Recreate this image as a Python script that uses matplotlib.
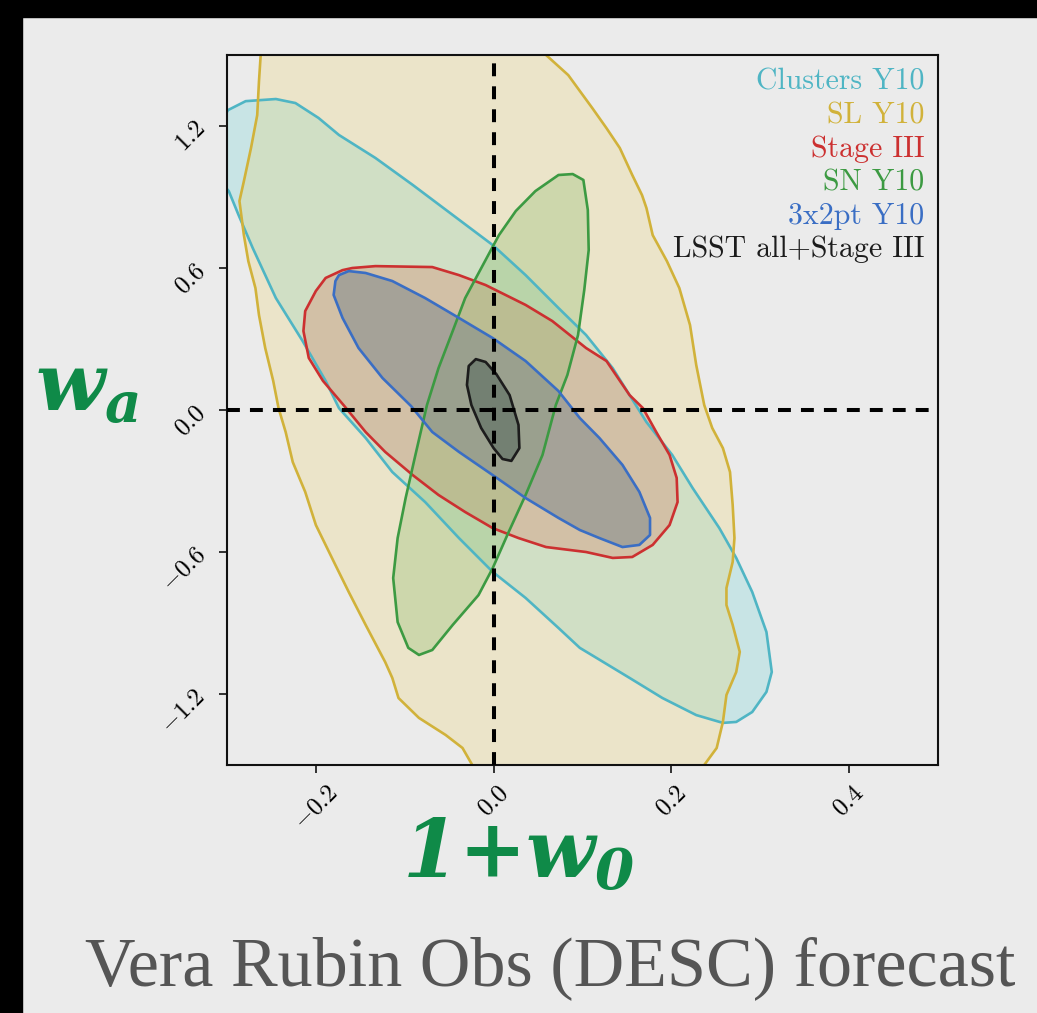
import numpy as np
import matplotlib
matplotlib.use("Agg")
import matplotlib.pyplot as plt
from matplotlib.patches import Rectangle

# ------------------------------------------------------------
# Contours 68% dans le plan (1+w0, wa) -- sommets
# ------------------------------------------------------------
sl_x = [-0.261, -0.264, -0.266, -0.273, -0.281, -0.286, -0.281, -0.276, -0.268,
        -0.264, -0.257, -0.248, -0.242, -0.234, -0.226, -0.212, -0.200, -0.178,
        -0.163, -0.144, -0.122, -0.114, -0.107, -0.084, -0.054, -0.035, -0.024,
        -0.015, 0.060, 0.232,
        0.237, 0.251, 0.258, 0.262, 0.273, 0.277, 0.269, 0.262, 0.262, 0.269,
        0.271, 0.269, 0.266, 0.258, 0.246, 0.237, 0.228, 0.221, 0.209, 0.195,
        0.179, 0.172, 0.167, 0.156, 0.142, 0.127, 0.111, 0.097, 0.084, 0.059,
        0.035, -0.100, -0.250]
sl_y = [1.563, 1.390, 1.246, 1.107, 0.967, 0.883, 0.739, 0.629, 0.515,
        0.401, 0.262, 0.123, 0.008, -0.093, -0.220, -0.346, -0.486, -0.655,
        -0.769, -0.908, -1.065, -1.132, -1.217, -1.301, -1.373, -1.428, -1.500,
        -1.600, -1.680, -1.600,
        -1.500, -1.428, -1.318, -1.204, -1.107, -1.022, -0.908, -0.824, -0.752, -0.642,
        -0.541, -0.401, -0.262, -0.161, -0.076, 0.021, 0.190, 0.359, 0.515, 0.629,
        0.739, 0.853, 0.908, 0.993, 1.107, 1.191, 1.276, 1.348, 1.415, 1.500,
        1.580, 1.620, 1.600]

cl_x = [-0.315, -0.299, -0.279, -0.245, -0.223, -0.197, -0.174, -0.133, -0.091,
        -0.046, -0.001, 0.036, 0.073, 0.104, 0.134, 0.153, 0.172, 0.201, 0.224,
        0.254, 0.273, 0.291, 0.307, 0.313, 0.307, 0.291, 0.273, 0.258, 0.228,
        0.190, 0.153, 0.116, 0.097, 0.073, 0.036, -0.001, -0.039, -0.077, -0.114,
        -0.144, -0.174, -0.189, -0.215, -0.245, -0.271, -0.287, -0.298, -0.315]
cl_y = [1.150, 1.267, 1.305, 1.314, 1.297, 1.234, 1.162, 1.065, 0.951,
        0.824, 0.697, 0.570, 0.431, 0.317, 0.177, 0.063, -0.051, -0.190, -0.330,
        -0.499, -0.625, -0.769, -0.938, -1.107, -1.191, -1.276, -1.318, -1.322, -1.289,
        -1.217, -1.132, -1.048, -1.005, -0.921, -0.794, -0.684, -0.541, -0.389, -0.262,
        -0.118, 0.008, 0.123, 0.292, 0.473, 0.684, 0.824, 0.925, 1.000]

s3_x = [-0.170, -0.159, -0.133, -0.069, -0.039, -0.009, 0.036, 0.066, 0.104,
        0.127, 0.153, 0.168, 0.183, 0.198, 0.206, 0.207, 0.198, 0.179, 0.156,
        0.134, 0.104, 0.059, 0.028, -0.001, -0.032, -0.062, -0.091, -0.122,
        -0.144, -0.168, -0.192, -0.208, -0.214, -0.212, -0.200, -0.189]
s3_y = [0.591, 0.600, 0.608, 0.604, 0.570, 0.528, 0.444, 0.376, 0.262,
        0.207, 0.063, 0.008, -0.093, -0.190, -0.287, -0.389, -0.486, -0.570, -0.621,
        -0.625, -0.600, -0.579, -0.541, -0.499, -0.431, -0.359, -0.275, -0.177,
        -0.093, 0.017, 0.123, 0.220, 0.334, 0.418, 0.503, 0.558]

sn_x = [0.089, 0.101, 0.106, 0.107, 0.102, 0.095, 0.083, 0.070, 0.055, 0.036,
        0.017, -0.001, -0.017, -0.046, -0.069, -0.084, -0.096, -0.108, -0.113,
        -0.108, -0.099, -0.088, -0.075, -0.062, -0.046, -0.032, -0.012, 0.006,
        0.025, 0.047, 0.073]
sn_y = [0.997, 0.972, 0.845, 0.676, 0.507, 0.317, 0.148, 0.021, -0.190, -0.359,
        -0.515, -0.668, -0.782, -0.908, -1.014, -1.035, -1.005, -0.896, -0.710,
        -0.541, -0.372, -0.190, 0.021, 0.177, 0.334, 0.473, 0.613, 0.739,
        0.841, 0.925, 0.993]

x2_x = [-0.174, -0.163, -0.144, -0.114, -0.077, -0.039, -0.001, 0.036, 0.073,
        0.097, 0.119, 0.145, 0.164, 0.176, 0.176, 0.164, 0.145, 0.119, 0.097,
        0.073, 0.036, -0.001, -0.039, -0.069, -0.093, -0.125, -0.152, -0.170,
        -0.180, -0.178]
x2_y = [0.570, 0.587, 0.579, 0.545, 0.473, 0.389, 0.304, 0.207, 0.080,
        -0.034, -0.118, -0.232, -0.346, -0.456, -0.528, -0.570, -0.579, -0.541, -0.507,
        -0.456, -0.372, -0.275, -0.177, -0.093, 0.017, 0.135, 0.262, 0.389,
        0.486, 0.545]

all_x = [-0.020, -0.009, 0.003, 0.018, 0.028, 0.029, 0.020, 0.010, 0.000,
         -0.014, -0.025, -0.030, -0.028]
all_y = [0.215, 0.203, 0.152, 0.063, -0.063, -0.161, -0.215, -0.207, -0.161,
         -0.076, 0.021, 0.106, 0.186]

labels = ["Clusters Y10", "SL Y10", "Stage III", "SN Y10", "3x2pt Y10",
          "LSST all+Stage III"]

x_ticks = [-0.2, 0.0, 0.2, 0.4]
y_ticks = [-1.2, -0.6, 0.0, 0.6, 1.2]

# ------------------------------------------------------------
# Style
# ------------------------------------------------------------
plt.rcParams['font.family'] = ['cmr10']
plt.rcParams['mathtext.fontset'] = 'cm'
plt.rcParams['axes.formatter.use_mathtext'] = True
plt.rcParams['mathtext.rm'] = 'DejaVu Serif:italic:bold'
plt.rcParams['mathtext.it'] = 'DejaVu Serif:italic:bold'
plt.rcParams['mathtext.bf'] = 'DejaVu Serif:italic:bold'

BG = '#ebebeb'
VERT = '#0f8a48'

fig = plt.figure(figsize=(10.37, 10.13), dpi=100, facecolor=BG)
ax = fig.add_axes([0.2189, 0.2448, 0.6856, 0.7009])
ax.set_facecolor(BG)

# (x, y, couleur du trait, remplissage)
contours = [
    (cl_x, cl_y, '#4fb5c4', (0.50, 0.84, 0.86, 0.32)),
    (sl_x, sl_y, '#d1b23a', (0.92, 0.82, 0.40, 0.25)),
    (s3_x, s3_y, '#cc3030', (0.85, 0.45, 0.35, 0.28)),
    (sn_x, sn_y, '#3c9a42', (0.50, 0.72, 0.38, 0.28)),
    (x2_x, x2_y, '#3a6ec4', (0.48, 0.52, 0.55, 0.50)),
    (all_x, all_y, '#1c1c1c', (0.30, 0.38, 0.34, 0.50)),
]

# remplissages d'abord, puis tous les contours par-dessus
handles = []
for (cx, cy, lc, fc), lab in zip(contours, labels):
    ax.fill(cx, cy, facecolor=fc, edgecolor='none', zorder=1)
for (cx, cy, lc, fc), lab in zip(contours, labels):
    p = ax.fill(cx, cy, facecolor='none', edgecolor=lc, lw=1.9,
                joinstyle='round', label=lab, zorder=2)[0]
    handles.append(p)

# Modèle de référence LCDM
ax.axvline(0.0, color='k', lw=2.9, ls=(0, (3.2, 2.5)), zorder=5)
ax.axhline(0.0, color='k', lw=2.9, ls=(0, (3.2, 2.5)), zorder=5)

ax.set_xlim(-0.3, 0.5)
ax.set_ylim(-1.5, 1.5)
ax.set_xticks(x_ticks)
ax.set_yticks(y_ticks)
ax.tick_params(axis='both', which='major', direction='out', length=6,
               width=1.1, labelsize=18, pad=6, top=False, right=False)
for lab in ax.get_xticklabels():
    lab.set_rotation(45)
for lab in ax.get_yticklabels():
    lab.set_rotation(45)
for sp in ax.spines.values():
    sp.set_linewidth(1.5)
    sp.set_color('#111111')

leg = ax.legend(handles=handles, loc='upper right', frameon=False,
                handlelength=0, handletextpad=0, markerfirst=False,
                labelcolor=[h.get_edgecolor() for h in handles],
                prop={'family': 'cmr10', 'size': 21.5}, labelspacing=0.2,
                borderaxespad=0.05, borderpad=0.4)
for h in leg.legend_handles:
    h.set_visible(False)

# Étiquettes des axes
fig.text(35 / 1037, 1 - 410 / 1013, r'$w_a$', color=VERT, fontsize=58,
         math_fontfamily='custom', ha='left', va='baseline')
fig.text(402 / 1037, 1 - 877 / 1013, r'$1{+}w_0$', color=VERT, fontsize=58,
         math_fontfamily='custom', ha='left', va='baseline')

fig.text(550 / 1037, 1 - 985 / 1013, 'Vera Rubin Obs (DESC) forecast',
         color='#555555', fontsize=50.5, family='Liberation Serif',
         ha='center', va='baseline')

# Bandes noires (bords de la capture)
fig.patches.append(Rectangle((0, 1 - 17 / 1013), 1, 17 / 1013,
                             transform=fig.transFigure, color='black', zorder=10))
fig.patches.append(Rectangle((0, 0), 22 / 1037, 1,
                             transform=fig.transFigure, color='black', zorder=10))

fig.savefig('out.png', dpi=100, facecolor=BG)
